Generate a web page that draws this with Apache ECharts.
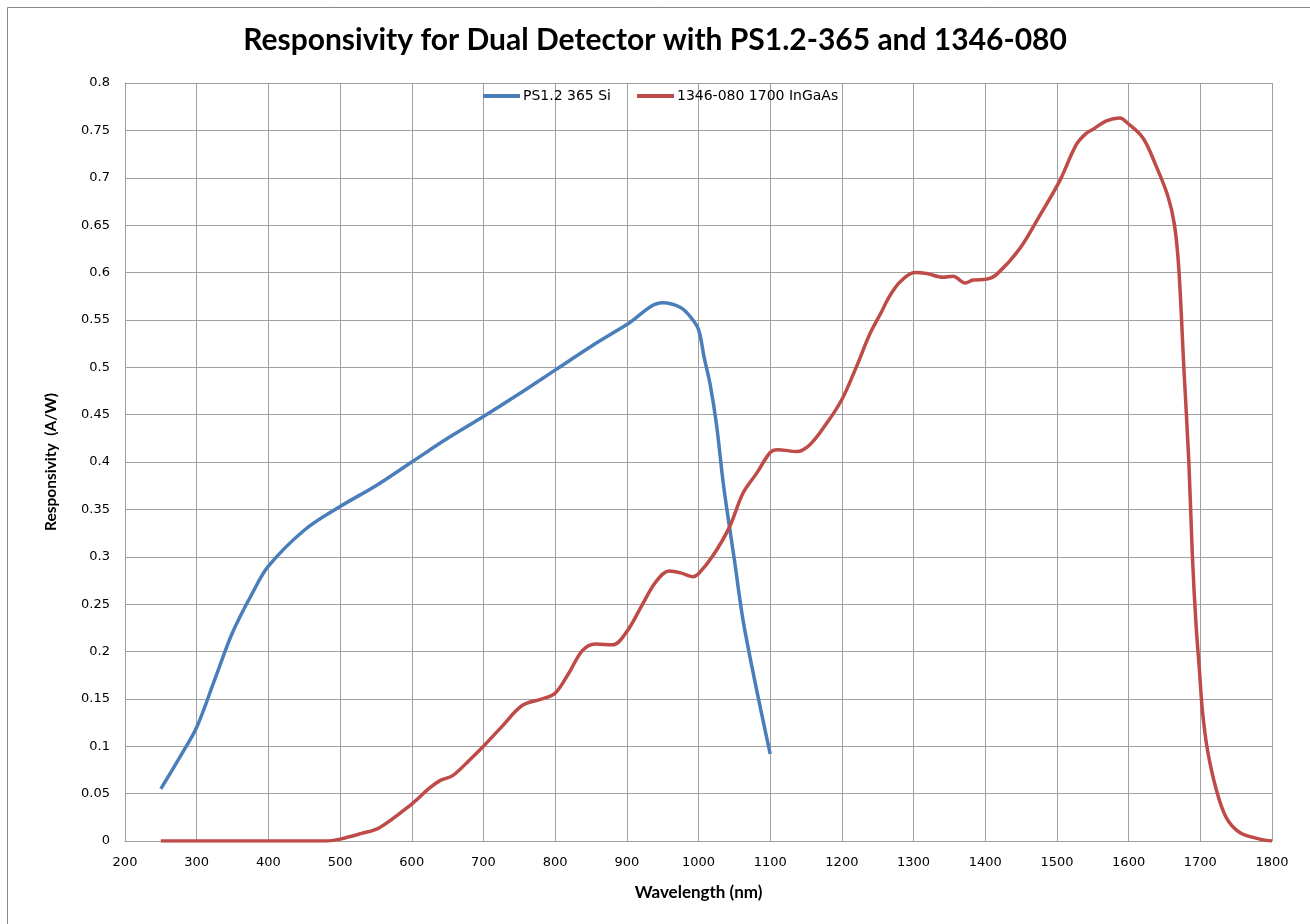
<!DOCTYPE html>
<html>
<head>
<meta charset="utf-8">
<script src="https://cdn.jsdelivr.net/npm/echarts@6/dist/echarts.min.js"></script>
<style>
html,body{margin:0;padding:0;background:#fff;}
#c{width:1310px;height:924px;}
</style>
</head>
<body>
<div id="c"></div>
<script>
const titleText = 'Responsivity for Dual Detector with PS1.2-365 and 1346-080';
const xAxisName = 'Wavelength (nm)';
const yAxisName = 'Responsivity  (A/W)';
const seriesNames = ['PS1.2 365 Si', '1346-080 1700 InGaAs'];

const siData = [
  [250,0.055],[280,0.093],[300,0.12],[325,0.17],[350,0.22],[378,0.262],[400,0.29],
  [450,0.328],[500,0.353],[550,0.375],[600,0.4],[650,0.425],[700,0.448],[750,0.472],
  [800,0.497],[850,0.522],[900,0.545],[950,0.568],[975,0.563],[990,0.552],[1000,0.54],
  [1008,0.51],[1016,0.483],[1025,0.44],[1035,0.375],[1050,0.297],[1064,0.225],[1100,0.092]
];

const ingaasData = [
  [250,0],[300,0],[350,0],[400,0],[450,0],[480,0],[500,0.002],[530,0.008],[555,0.014],
  [600,0.039],[625,0.056],[640,0.064],[657,0.069],[680,0.085],[700,0.1],[726,0.121],
  [754,0.143],[782,0.15],[800,0.156],[819,0.177],[838,0.201],[856,0.208],[880,0.207],
  [900,0.221],[922,0.25],[940,0.273],[959,0.285],[975,0.283],[992,0.279],[1000,0.282],
  [1020,0.301],[1043,0.331],[1062,0.367],[1081,0.388],[1100,0.41],[1110,0.413],
  [1137,0.411],[1155,0.418],[1178,0.44],[1200,0.466],[1220,0.5],[1239,0.535],
  [1255,0.558],[1265,0.573],[1281,0.59],[1302,0.6],[1318,0.599],[1341,0.595],
  [1355,0.596],[1372,0.589],[1383,0.592],[1402,0.593],[1416,0.598],[1448,0.625],
  [1476,0.66],[1504,0.697],[1527,0.735],[1541,0.747],[1550,0.751],[1569,0.76],
  [1588,0.763],[1598,0.758],[1620,0.742],[1638,0.713],[1655,0.68],[1664,0.65],
  [1670,0.604],[1677,0.5],[1684,0.4],[1689,0.3],[1694,0.229],[1699,0.178],[1703,0.137],
  [1710,0.096],[1722,0.055],[1736,0.025],[1755,0.009],[1783,0.002],[1800,0]
];

const xMin = 200, xMax = 1800, xStep = 100;
const yMin = 0, yMax = 0.8, yStep = 0.05;

const chart = echarts.init(document.getElementById('c'), null, {renderer:'canvas'});
const gridColor = '#a0a0a0';
chart.setOption({
  animation: false,
  backgroundColor: '#fff',
  title: {
    text: titleText, left: 'center', top: 20,
    textStyle: {fontFamily: 'Lato', fontWeight: 'bold', fontSize: 30, color: '#000'}
  },
  graphic: [{
    type: 'rect', silent: true, z: -1,
    shape: {x: 7.5, y: 7.5, width: 1330, height: 940},
    style: {fill: 'none', stroke: '#888', lineWidth: 1}
  }],
  legend: {
    left: 478, top: 84,
    itemWidth: 37, itemHeight: 4, itemGap: 26,
    icon: 'rect',
    textStyle: {fontFamily: 'DejaVu Sans', fontSize: 14, color: '#000', padding: [0,0,0,-2]},
    data: seriesNames
  },
  grid: {left: 125, top: 83, width: 1147, height: 758, containLabel: false},
  xAxis: {
    type: 'value', min: xMin, max: xMax, interval: xStep,
    name: xAxisName, nameLocation: 'middle', nameGap: 43,
    nameTextStyle: {fontFamily: 'Lato', fontWeight: 'bold', fontSize: 17, color: '#000'},
    axisLine: {show: true, lineStyle: {color: gridColor}},
    axisTick: {show: false},
    axisLabel: {fontFamily: 'DejaVu Sans', fontSize: 13, color: '#000', margin: 15,
      formatter: v => String(v)},
    splitLine: {show: true, lineStyle: {color: gridColor, width: 1}}
  },
  yAxis: {
    type: 'value', min: yMin, max: yMax, interval: yStep,
    name: yAxisName, nameLocation: 'middle', nameGap: 66, nameRotate: 90,
    nameTextStyle: {fontFamily: 'Lato', fontWeight: 'bold', fontSize: 15.5, color: '#000'},
    axisLine: {show: true, lineStyle: {color: gridColor}},
    axisTick: {show: false},
    axisLabel: {fontFamily: 'DejaVu Sans', fontSize: 13, color: '#000', margin: 15,
      formatter: v => String(Math.round(v*100)/100)},
    splitLine: {show: true, lineStyle: {color: gridColor, width: 1}}
  },
  series: [
    {
      name: seriesNames[0], type: 'line', data: siData, smooth: 0.35,
      showSymbol: false, symbol: 'none',
      itemStyle: {color: '#4a7ebb'},
      lineStyle: {color: '#4a7ebb', width: 3.5}
    },
    {
      name: seriesNames[1], type: 'line', data: ingaasData, smooth: 0.35,
      showSymbol: false, symbol: 'none',
      itemStyle: {color: '#be4b48'},
      lineStyle: {color: '#be4b48', width: 3.5}
    }
  ]
});
</script>
</body>
</html>
